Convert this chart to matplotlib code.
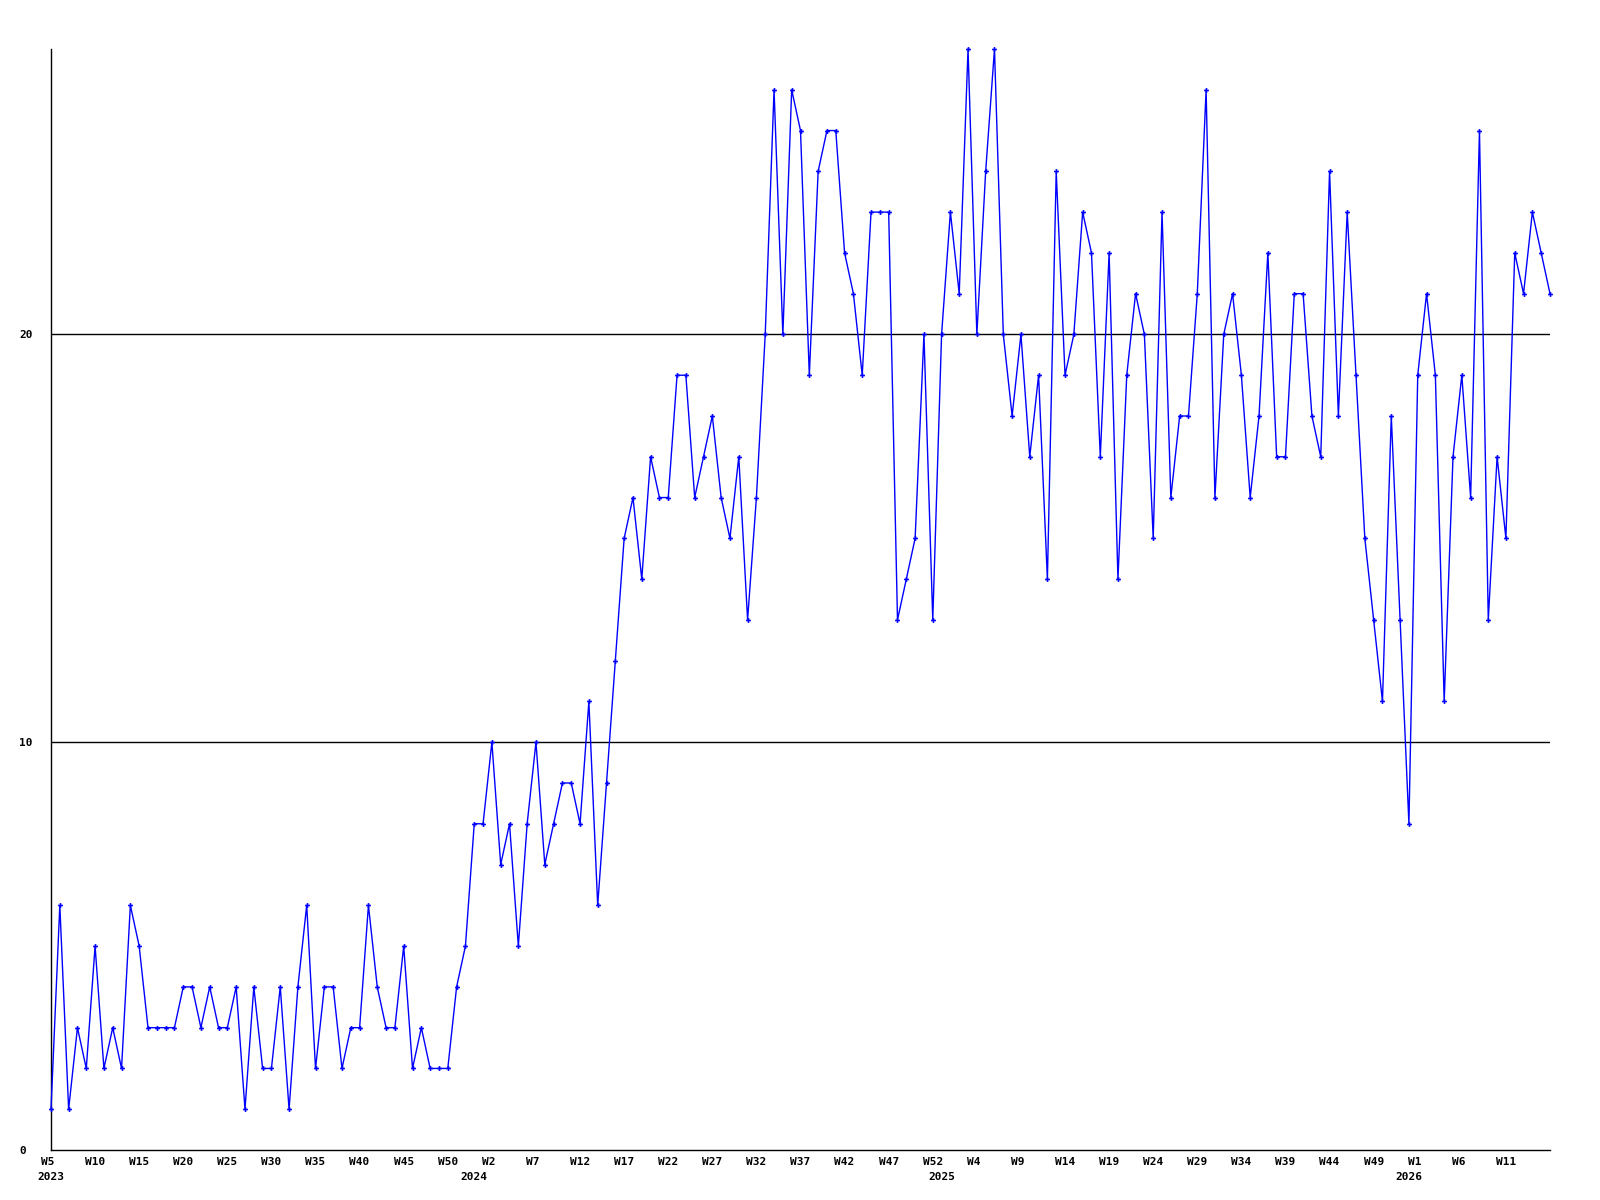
import matplotlib
matplotlib.use("Agg")
import matplotlib.pyplot as plt
import numpy as np

# ---- data -------------------------------------------------------------
values = [
    1, 6, 1, 3, 2, 5, 2, 3, 2, 6, 5, 3, 3, 3, 3, 4, 4, 3, 4, 3,
    3, 4, 1, 4, 2, 2, 4, 1, 4, 6, 2, 4, 4, 2, 3, 3, 6, 4, 3, 3,
    5, 2, 3, 2, 2, 2,
    4, 5, 8, 8, 10, 7, 8, 5, 8, 10, 7, 8, 9, 9, 8, 11, 6, 9, 12,
    15, 16, 14, 17, 16, 16, 19, 19, 16, 17,
    18, 16, 15, 17, 13, 16, 20, 26, 20, 26,
    25, 19, 24, 25, 25, 22, 21, 19, 23, 23,
    23, 13, 14, 15, 20, 13, 20, 23, 21, 27,
    20, 24, 27, 20, 18, 20, 17, 19, 14, 24,
    19, 20, 23, 22, 17, 22, 14, 19, 21, 20,
    15, 23, 16, 18, 18, 21, 26, 16, 20, 21,
    19, 16, 18, 22, 17, 17, 21, 21, 18, 17,
    24, 18, 23, 19, 15, 13, 11, 18, 13, 8,
    19, 21, 19, 11, 17, 19, 16, 25, 13, 17,
    15, 22, 21, 23, 22, 21,
]

week_labels = [
    "W5", "W10", "W15", "W20", "W25", "W30", "W35", "W40", "W45", "W50",
    "W2", "W7", "W12", "W17", "W22", "W27", "W32", "W37", "W42", "W47", "W52",
    "W4", "W9", "W14", "W19", "W24", "W29", "W34", "W39", "W44", "W49",
    "W1", "W6", "W11",
]
year_labels = ["2023", "2024", "2025", "2026"]
year_start_index = [0, 48, 101, 154]

y_ticks = [0, 10, 20]

# ---- figure -----------------------------------------------------------
fig = plt.figure(figsize=(16, 12), dpi=100)
ax = fig.add_axes([51 / 1600, 1 - 1150 / 1200, (1550 - 51) / 1600, (1150 - 49) / 1200])

x = np.arange(len(values))
ax.set_xlim(0, len(values) - 1)
ax.set_ylim(0, 27)

for yt in y_ticks[1:]:
    ax.axhline(yt, color="black", linewidth=1.0, zorder=1)

ax.plot(x, values, color="#0000FF", linewidth=1.0, marker="P",
        markersize=3.5, markeredgewidth=0, zorder=3, clip_on=False)

for s in ["top", "right"]:
    ax.spines[s].set_visible(False)
for s in ["left", "bottom"]:
    ax.spines[s].set_color("black")
    ax.spines[s].set_linewidth(1.0)

font = dict(family="DejaVu Sans Mono", size=8, weight="bold")

ax.set_yticks(y_ticks)
ax.set_yticklabels([str(v) for v in y_ticks], fontdict=font, ha="left")
ax.tick_params(axis="y", length=0, pad=23)

ax.xaxis.remove_overlapping_locs = False
tick_pos = np.arange(0, len(values), 5)[:len(week_labels)]
ax.set_xticks(tick_pos)
ax.set_xticklabels([f"{w:<3}" for w in week_labels], fontdict=font)
ax.set_xticks(year_start_index, minor=True)
ax.set_xticklabels(year_labels, minor=True, fontdict=font)
ax.tick_params(axis="x", which="major", length=0, pad=5)
ax.tick_params(axis="x", which="minor", length=0, pad=16)

fig.savefig("out.png", dpi=100, facecolor="white")
